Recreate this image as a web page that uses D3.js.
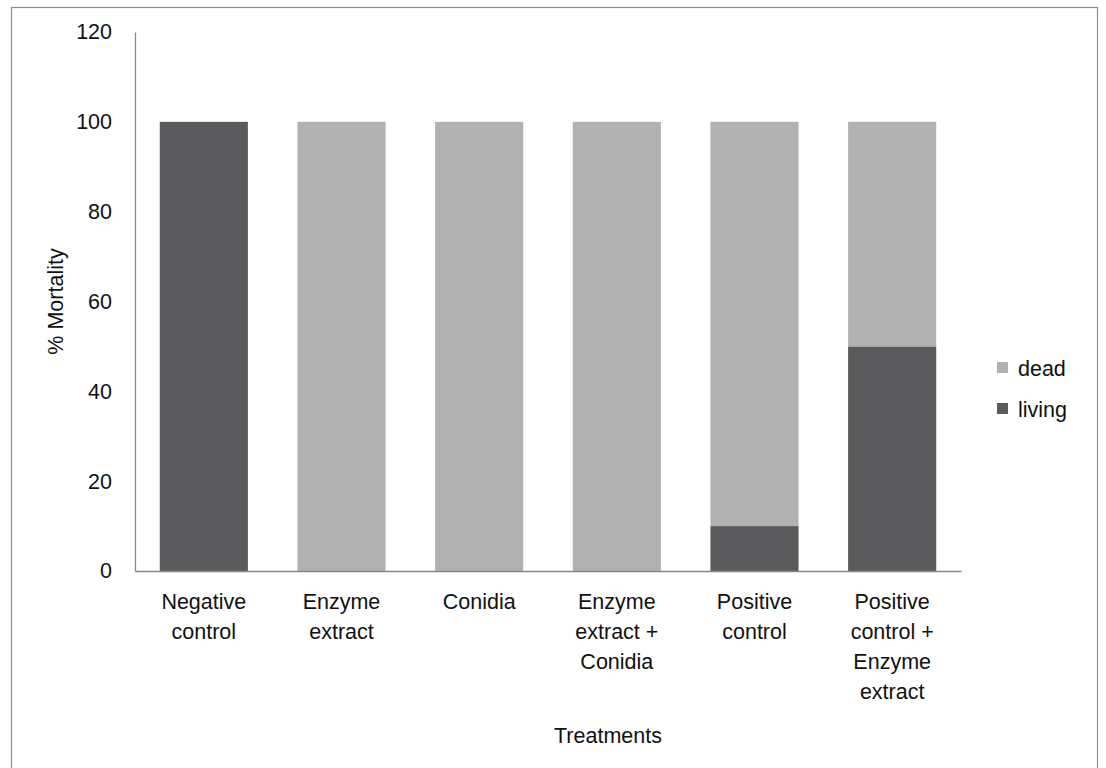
<!DOCTYPE html>
<html>
<head>
<meta charset="utf-8">
<script src="https://cdn.jsdelivr.net/npm/d3@7"></script>
<style>
  html, body { margin: 0; padding: 0; background: #fff; }
  svg { display: block; font-family: "Liberation Sans", Arial, sans-serif; }
</style>
</head>
<body>
<svg id="chart" width="1106" height="768"></svg>
<script>
// Treatments along the x axis (each entry is the lines of its label)
const categories = [
  ["Negative", "control"],
  ["Enzyme", "extract"],
  ["Conidia"],
  ["Enzyme", "extract +", "Conidia"],
  ["Positive", "control"],
  ["Positive", "control +", "Enzyme", "extract"]
];
// Percentage of larvae in each state per treatment
const living = [100, 0, 0, 0, 10, 50];
const dead   = [0, 100, 100, 100, 90, 50];
const seriesNames = ["living", "dead"];
const yTicks = [0, 20, 40, 60, 80, 100, 120];

const colors = { living: "#5a5a5c", dead: "#b1b1b1" };
const FS = 21.5;

const svg = d3.select("#chart");

// Outer frame
svg.append("rect")
  .attr("x", 11.5).attr("y", 7.5)
  .attr("width", 1086).attr("height", 780)
  .attr("fill", "none").attr("stroke", "#8c8c8c").attr("stroke-width", 1.2);

const plot = { left: 135, right: 961, top: 32, bottom: 571 };

const keys = categories.map((c, i) => i);
const x = d3.scaleBand().domain(keys).range([plot.left, plot.right]).paddingInner(0.36).paddingOuter(0.18);
const y = d3.scaleLinear().domain([0, 120]).range([plot.bottom, plot.top]);

const rows = keys.map(i => ({ key: i, living: living[i], dead: dead[i] }));
const stacked = d3.stack().keys(seriesNames)(rows);

// Stacked bars
svg.append("g").selectAll("g")
  .data(stacked)
  .join("g")
  .attr("fill", s => colors[s.key])
  .selectAll("rect")
  .data(s => s)
  .join("rect")
  .attr("x", d => x(d.data.key))
  .attr("width", x.bandwidth())
  .attr("y", d => y(d[1]))
  .attr("height", d => y(d[0]) - y(d[1]));

// Y axis
const yAxis = svg.append("g")
  .attr("transform", `translate(${plot.left},0)`)
  .call(d3.axisLeft(y).tickValues(yTicks).tickSize(0).tickPadding(23));
yAxis.select(".domain").attr("stroke", "#888").attr("stroke-width", 1.3);
yAxis.selectAll("text").attr("font-size", FS).attr("fill", "#111")
  .attr("font-family", "Liberation Sans, Arial, sans-serif");

// X axis
const xAxis = svg.append("g")
  .attr("transform", `translate(0,${plot.bottom})`)
  .call(d3.axisBottom(x).tickSize(0).tickFormat(""));
xAxis.select(".domain").attr("stroke", "#888").attr("stroke-width", 1.3);

// Multi-line category labels
const labels = svg.append("g")
  .attr("font-size", FS).attr("fill", "#111").attr("text-anchor", "middle");
categories.forEach((lines, i) => {
  const cx = x(i) + x.bandwidth() / 2;
  const t = labels.append("text").attr("x", cx).attr("y", 609);
  lines.forEach((ln, j) => {
    t.append("tspan")
      .attr("x", cx)
      .attr("dy", j === 0 ? 0 : 30)
      .text(ln);
  });
});

// Axis titles
svg.append("text")
  .attr("x", 608).attr("y", 743)
  .attr("text-anchor", "middle").attr("font-size", FS).attr("fill", "#111")
  .text("Treatments");

svg.append("text")
  .attr("transform", `translate(63,${(plot.top + plot.bottom) / 2}) rotate(-90)`)
  .attr("text-anchor", "middle").attr("font-size", FS).attr("fill", "#111")
  .text("% Mortality");

// Legend
const legendItems = ["dead", "living"];
const legend = svg.append("g");
legendItems.forEach((name, i) => {
  const ly = 368 + i * 41;
  legend.append("rect")
    .attr("x", 997).attr("y", ly - 6)
    .attr("width", 11).attr("height", 11)
    .attr("fill", colors[name]);
  legend.append("text")
    .attr("x", 1018).attr("y", ly + 7.5)
    .attr("font-size", FS).attr("fill", "#111")
    .text(name);
});
</script>
</body>
</html>
